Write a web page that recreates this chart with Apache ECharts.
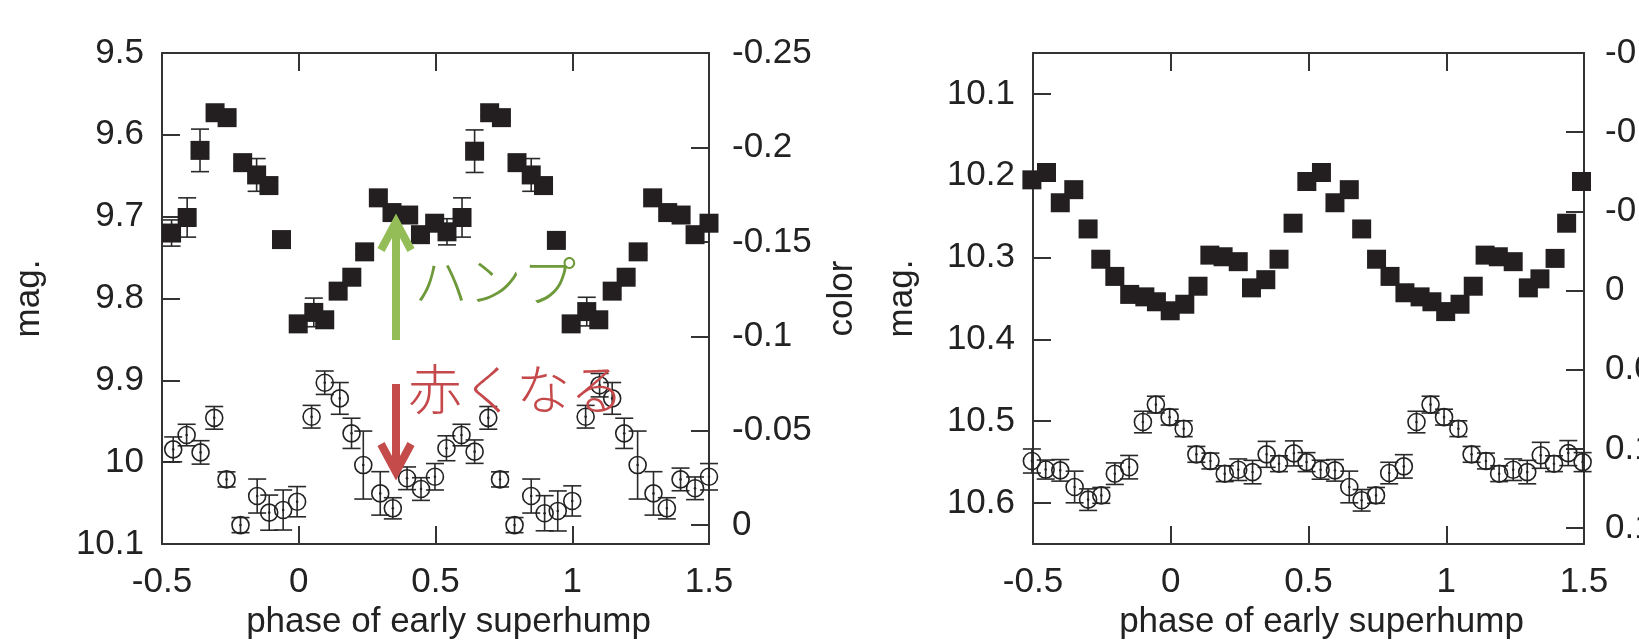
<!DOCTYPE html>
<html><head><meta charset="utf-8">
<script src="https://cdn.jsdelivr.net/npm/echarts@6/dist/echarts.min.js"></script>
<style>html,body{margin:0;padding:0;background:#fff}#c{width:1639px;height:640px}</style>
</head><body><div id="c"></div>
<script>
// ---------- data ----------
// Left panel: magnitude (filled squares, left axis)
const leftMagPhase = [-0.465,-0.408,-0.361,-0.306,-0.262,-0.205,-0.154,-0.109,-0.063,-0.002,0.055,0.095,0.144,0.194,0.241,0.291,0.341,0.402,0.445,0.497,
  0.542,0.597,0.643,0.698,0.741,0.798,0.850,0.895,0.942,0.996,1.053,1.097,1.146,1.197,1.241,1.294,1.349,1.398,1.449,1.500];
const leftMag = [9.720,9.701,9.619,9.573,9.579,9.634,9.649,9.662,9.728,9.831,9.817,9.826,9.791,9.774,9.743,9.677,9.695,9.698,9.722,9.708,
  9.7185,9.701,9.620,9.573,9.579,9.634,9.649,9.662,9.729,9.831,9.816,9.826,9.791,9.774,9.743,9.677,9.695,9.698,9.722,9.708];
const leftMagErr = [0.016,0.024,0.026,0.004,0.004,0.005,0.020,0.005,0.004,0.004,0.0175,0.005,0.005,0.004,0.004,0.005,0.005,0.005,0.005,0.005,
  0.016,0.024,0.026,0.004,0.004,0.005,0.020,0.005,0.004,0.004,0.0175,0.005,0.005,0.004,0.004,0.005,0.005,0.005,0.005,0.005];
// Left panel: colour (open circles, right axis)
const leftColPhase = [-0.459,-0.410,-0.359,-0.309,-0.264,-0.213,-0.152,-0.108,-0.057,-0.006,0.047,0.095,0.150,0.193,0.236,0.298,0.344,0.396,0.447,0.498,
  0.540,0.595,0.643,0.693,0.736,0.789,0.850,0.899,0.947,1.000,1.049,1.100,1.146,1.190,1.239,1.297,1.346,1.396,1.449,1.500];
const leftCol = [-0.0401,-0.0477,-0.0385,-0.0568,-0.0242,0.0000,-0.0154,-0.0066,-0.0080,-0.0124,-0.0574,-0.0754,-0.0671,-0.0486,-0.0318,-0.0168,-0.0089,-0.0248,-0.0191,-0.0256,
  -0.0407,-0.0477,-0.0389,-0.0568,-0.0242,0.0000,-0.0154,-0.0063,-0.0075,-0.0128,-0.0574,-0.0741,-0.0671,-0.0486,-0.0318,-0.0168,-0.0089,-0.0242,-0.0195,-0.0256];
const leftColErr = [0.0066,0.0057,0.0062,0.006,0.004,0.004,0.009,0.0093,0.0106,0.008,0.006,0.0062,0.0084,0.008,0.018,0.0115,0.0056,0.006,0.006,0.007,
  0.0066,0.0057,0.0062,0.006,0.004,0.004,0.009,0.0093,0.0106,0.008,0.006,0.0062,0.0084,0.008,0.018,0.0115,0.0056,0.006,0.006,0.007];
// Right panel: magnitude (filled squares, left axis)
const rightMagPhase = [-0.504,-0.451,-0.401,-0.352,-0.300,-0.254,-0.203,-0.149,-0.094,-0.052,-0.002,0.051,0.099,0.142,0.190,0.245,0.293,0.345,0.393,0.444,0.494,
  0.547,0.596,0.648,0.693,0.747,0.796,0.850,0.905,0.948,0.998,1.050,1.098,1.141,1.189,1.243,1.298,1.340,1.395,1.437,1.491];
const rightMag = [10.205,10.196,10.233,10.217,10.265,10.302,10.323,10.345,10.348,10.354,10.365,10.357,10.335,10.297,10.299,10.305,10.337,10.327,10.302,10.258,10.207,
  10.196,10.233,10.217,10.265,10.302,10.323,10.343,10.348,10.354,10.366,10.357,10.335,10.297,10.299,10.305,10.337,10.326,10.301,10.258,10.207];
// Right panel: colour (open circles, right axis)
const rightColPhase = [-0.504,-0.454,-0.401,-0.349,-0.300,-0.252,-0.203,-0.151,-0.101,-0.054,-0.004,0.047,0.093,0.144,0.196,0.245,0.297,0.348,0.393,0.447,0.493,
  0.544,0.596,0.648,0.693,0.745,0.793,0.846,0.892,0.943,0.992,1.044,1.092,1.144,1.192,1.243,1.294,1.343,1.391,1.443,1.495];
const rightCol = [0.1076,0.1130,0.1135,0.1240,0.1320,0.1293,0.1156,0.1115,0.0830,0.0720,0.0799,0.0872,0.1034,0.1076,0.1156,0.1131,0.1146,0.1034,0.1093,0.1028,0.1083,
  0.1131,0.1135,0.1240,0.1324,0.1293,0.1152,0.1110,0.0830,0.0720,0.0799,0.0872,0.1034,0.1076,0.1156,0.1131,0.1146,0.1040,0.1093,0.1026,0.1083];
const rightColErr = [0.0076,0.006,0.0068,0.010,0.0068,0.005,0.0068,0.0074,0.0068,0.0053,0.005,0.005,0.005,0.005,0.005,0.0068,0.0074,0.0082,0.005,0.0079,0.006,
  0.006,0.0068,0.010,0.0068,0.005,0.0068,0.0074,0.0068,0.0053,0.005,0.005,0.005,0.005,0.005,0.0068,0.0074,0.0082,0.005,0.0079,0.006];

// axis ranges / labels
const phaseRange = [-0.5, 1.5];
const leftMagRange = [9.5, 10.1];
const leftColRange = [-0.25, 0.01];
const rightMagRange = [10.05, 10.65];
const rightColRange = [-0.15, 0.16];
const xTitle = 'phase of early superhump';
const magTitle = 'mag.';
const colTitle = 'color';

// ---------- chart ----------
const FONT = "'Liberation Sans', Arial, Helvetica, sans-serif";
const AX = '#333';
const TXT = '#222';
const FS = 35;
const round3 = v => String(Math.round(v * 1000) / 1000);

function xAx(grid, top) {
  return {
    type: 'value', gridIndex: grid, position: top ? 'top' : 'bottom',
    min: phaseRange[0], max: phaseRange[1], interval: 0.5,
    axisLine: { show: true, onZero: false, lineStyle: { color: AX, width: 2 } },
    axisTick: { show: true, inside: true, length: 18, lineStyle: { color: AX, width: 2 } },
    splitLine: { show: false },
    axisLabel: { show: !top, fontFamily: FONT, fontSize: FS, color: TXT, margin: 21, formatter: round3 },
    name: top ? '' : xTitle, nameLocation: 'middle', nameGap: 61,
    nameTextStyle: { fontFamily: FONT, fontSize: FS, color: TXT, padding: [0, 0, 0, 26] }
  };
}
function yAx(grid, right, range, interval, name, margin, gap, fmt) {
  const a = {
    type: 'value', gridIndex: grid, position: right ? 'right' : 'left', inverse: true,
    min: range[0], max: range[1],
    axisLine: { show: true, onZero: false, lineStyle: { color: AX, width: 2 } },
    axisTick: { show: true, inside: true, length: 18, lineStyle: { color: AX, width: 2 } },
    splitLine: { show: false },
    axisLabel: { fontFamily: FONT, fontSize: FS, color: TXT, margin: margin, formatter: fmt || round3 },
    name: name, nameLocation: 'middle', nameGap: gap, nameRotate: 90,
    nameTextStyle: { fontFamily: FONT, fontSize: FS, color: TXT }
  };
  if (interval) a.interval = interval; else a.splitNumber = 6;
  return a;
}

function errSeries(xi, yi, phases, vals, errs, dot) {
  const data = phases.map((p, i) => [p, vals[i] - errs[i], vals[i] + errs[i], vals[i]]);
  return {
    type: 'custom', xAxisIndex: xi, yAxisIndex: yi, data: data, z: 2, clip: false, silent: true,
    encode: { x: 0, y: [1, 2] },
    renderItem: function (params, api) {
      const x = api.value(0);
      const lo = api.coord([x, api.value(1)]);
      const hi = api.coord([x, api.value(2)]);
      const c = api.coord([x, api.value(3)]);
      const st = { stroke: '#2a2a2a', lineWidth: 1.6 };
      const cap = 9;
      const ch = [
        { type: 'line', shape: { x1: lo[0], y1: lo[1], x2: hi[0], y2: hi[1] }, style: st },
        { type: 'line', shape: { x1: lo[0] - cap, y1: lo[1], x2: lo[0] + cap, y2: lo[1] }, style: st },
        { type: 'line', shape: { x1: hi[0] - cap, y1: hi[1], x2: hi[0] + cap, y2: hi[1] }, style: st }
      ];
      if (dot) ch.push({ type: 'circle', shape: { cx: c[0], cy: c[1], r: 1.3 }, style: { fill: '#222' } });
      return { type: 'group', children: ch };
    }
  };
}
function squares(xi, yi, phases, vals) {
  return {
    type: 'scatter', xAxisIndex: xi, yAxisIndex: yi, symbol: 'rect', symbolSize: 19, clip: false, z: 3,
    itemStyle: { color: '#231f20', opacity: 1 }, data: phases.map((p, i) => [p, vals[i]])
  };
}
function circles(xi, yi, phases, vals) {
  return {
    type: 'scatter', xAxisIndex: xi, yAxisIndex: yi, symbol: 'circle', symbolSize: 17, clip: false, z: 3,
    itemStyle: { color: 'rgba(0,0,0,0)', borderColor: '#222', borderWidth: 1.6, opacity: 1 },
    data: phases.map((p, i) => [p, vals[i]])
  };
}

const magFmt = v => (Math.abs(v * 10 - Math.round(v * 10)) < 1e-6) ? String(Math.round(v * 10) / 10) : '';

const option = {
  animation: false,
  backgroundColor: '#fff',
  grid: [
    { left: 162, top: 53, width: 547, height: 491, outerBoundsMode: 'none' },
    { left: 1033, top: 53, width: 551, height: 491, outerBoundsMode: 'none' }
  ],
  xAxis: [xAx(0, false), xAx(0, true), xAx(1, false), xAx(1, true)],
  yAxis: [
    yAx(0, false, leftMagRange, 0.1, magTitle, 18, 115),
    yAx(0, true, leftColRange, 0.05, colTitle, 23, 116),
    yAx(1, false, rightMagRange, null, magTitle, 18, 113, magFmt),
    yAx(1, true, rightColRange, 0.05, '', 21, 20)
  ],
  series: [
    errSeries(0, 0, leftMagPhase, leftMag, leftMagErr, false),
    errSeries(0, 1, leftColPhase, leftCol, leftColErr, true),
    squares(0, 0, leftMagPhase, leftMag),
    circles(0, 1, leftColPhase, leftCol),
    squares(2, 2, rightMagPhase, rightMag),
    errSeries(2, 3, rightColPhase, rightCol, rightColErr, true),
    circles(2, 3, rightColPhase, rightCol)
  ],
  graphic: [
    { type: 'line', z: 100, shape: { x1: 396, y1: 340, x2: 396, y2: 224 }, style: { stroke: '#94bd58', lineWidth: 8 } },
    { type: 'polyline', z: 100, shape: { points: [[381, 250], [396, 222], [411, 250]] }, style: { stroke: '#94bd58', lineWidth: 8, fill: null, lineJoin: 'miter' } },
    { type: 'line', z: 100, shape: { x1: 396, y1: 384, x2: 396, y2: 470 }, style: { stroke: '#c54a4a', lineWidth: 8 } },
    { type: 'polyline', z: 100, shape: { points: [[381, 444], [396, 472], [411, 444]] }, style: { stroke: '#c54a4a', lineWidth: 8, fill: null, lineJoin: 'miter' } },
    { type: 'text', z: 101, left: 414, top: 254, style: { text: 'ハンプ', fill: '#6f9a3c', font: "300 54px 'Noto Sans CJK JP', sans-serif" } },
    { type: 'text', z: 101, left: 408, top: 362, style: { text: '赤くなる', fill: '#c5494b', font: "300 54px 'Noto Sans CJK JP', sans-serif" } }
  ]
};
const chart = echarts.init(document.getElementById('c'), null, { renderer: 'canvas' });
chart.setOption(option);
</script></body></html>
